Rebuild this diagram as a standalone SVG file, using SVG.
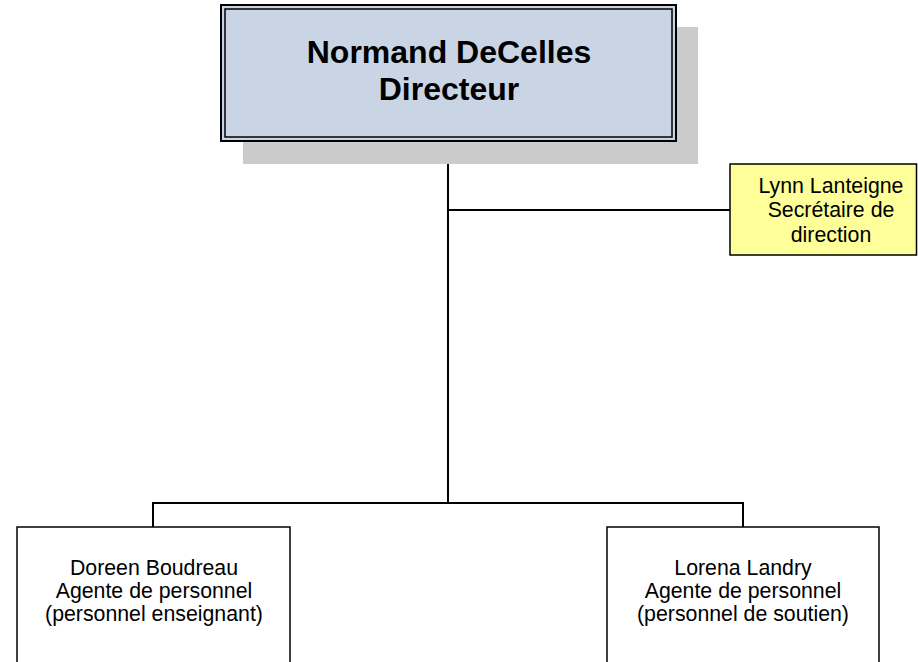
<svg xmlns="http://www.w3.org/2000/svg" width="918" height="662" viewBox="0 0 918 662">
<style>
.t{font-family:"Liberation Sans",Arial,sans-serif;font-size:21.3px;fill:#000;text-anchor:middle}
.tb{font-family:"Liberation Sans",Arial,sans-serif;font-size:32px;font-weight:bold;fill:#000;text-anchor:middle}
.box{stroke:#000;stroke-width:1.5}
.c{stroke:#000;stroke-width:2;fill:none}
</style>
<rect width="918" height="662" fill="#fff"/>
<g id="connectors">
<path class="c" d="M448,141 V503"/>
<path class="c" d="M448,210 H730"/>
<path class="c" d="M153,527 V503 H743 V527"/>
</g>
<g id="director">
<rect x="243" y="27" width="455" height="137" fill="#cbcbcb"/>
<rect x="221" y="5" width="455" height="136" fill="#c9d5e5" stroke="#000" stroke-width="2"/>
<rect x="225" y="9" width="447" height="128" fill="none" stroke="#000" stroke-width="1.5"/>
<text class="tb" x="449" y="63">Normand DeCelles</text>
<text class="tb" x="449" y="100">Directeur</text>
</g>
<g id="secretary">
<rect class="box" x="730" y="164" width="186.5" height="91" fill="#ffff99"/>
<text class="t" x="831" y="193">Lynn Lanteigne</text>
<text class="t" x="831" y="217">Secrétaire de</text>
<text class="t" x="831" y="242">direction</text>
</g>
<g id="doreen">
<rect class="box" x="17" y="527" width="273" height="140" fill="#fff"/>
<text class="t" x="154" y="575">Doreen Boudreau</text>
<text class="t" x="154" y="598">Agente de personnel</text>
<text class="t" x="154" y="621">(personnel enseignant)</text>
</g>
<g id="lorena">
<rect class="box" x="607" y="527" width="272" height="140" fill="#fff"/>
<text class="t" x="743" y="575">Lorena Landry</text>
<text class="t" x="743" y="598">Agente de personnel</text>
<text class="t" x="743" y="621">(personnel de soutien)</text>
</g>
</svg>
